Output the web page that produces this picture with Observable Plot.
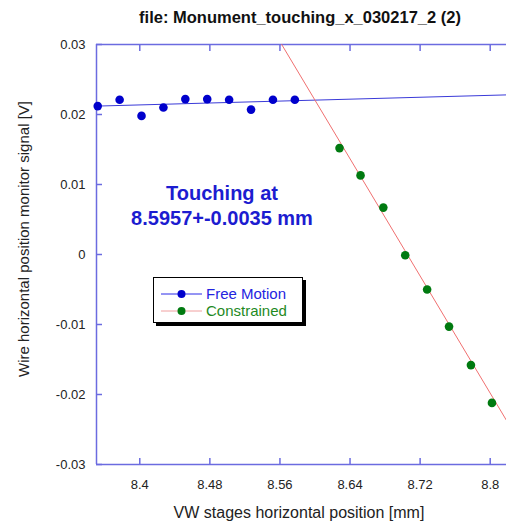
<!DOCTYPE html>
<html><head><meta charset="utf-8">
<script src="https://cdn.jsdelivr.net/npm/d3@7"></script>
<script src="https://cdn.jsdelivr.net/npm/@observablehq/plot@0.6"></script>
<style>
html,body{margin:0;padding:0;background:#fff;overflow:hidden}
#chart{position:relative;width:506px;height:522px}
</style></head><body><div id="chart"></div>
<script>
const title = "file: Monument_touching_x_030217_2 (2)";
const xLabel = "VW stages horizontal position [mm]";
const yLabel = "Wire horizontal position monitor signal [V]";
const annotation = ["Touching at", "8.5957+-0.0035 mm"];
const seriesNames = ["Free Motion", "Constrained"];
const xDomain = [8.3506, 8.8186];
const yDomain = [-0.03, 0.03];
const xTicks = [8.4, 8.48, 8.56, 8.64, 8.72, 8.8];
const yTicks = [-0.03, -0.02, -0.01, 0, 0.01, 0.02, 0.03];
const freeX = [8.352, 8.377, 8.402, 8.427, 8.452, 8.477, 8.502, 8.527, 8.552, 8.577];
const freeY = [0.0212, 0.0221, 0.0198, 0.0210, 0.0222, 0.0222, 0.0221, 0.0207, 0.0221, 0.0221];
const consX = [8.628, 8.652, 8.678, 8.703, 8.728, 8.753, 8.778, 8.802];
const consY = [0.0152, 0.0113, 0.0067, -0.0001, -0.0050, -0.0103, -0.0158, -0.0212];
const freeFitX = [8.3506, 8.8186];
const freeFitY = [0.0212, 0.0228];
const consFitX = [8.5620, 8.8186];
const consFitY = [0.03, -0.0237];

const axisColor = "#6b6be0";
const blueDot = "#0000cc", greenDot = "#007a10";
const blueLine = "#3a3ad8", redLine = "#f07070";
const font = "Arial, 'Liberation Sans', sans-serif";

const toRows = (xs, ys) => xs.map((x, i) => ({x, y: ys[i]}));
const free = toRows(freeX, freeY), cons = toRows(consX, consY);
const freeFit = toRows(freeFitX, freeFitY), consFit = toRows(consFitX, consFitY);
const fmt = d => String(d);

const plot = Plot.plot({
  width: 506, height: 522,
  marginLeft: 96, marginRight: 0, marginTop: 44, marginBottom: 58,
  style: {fontFamily: font, fontSize: "13px", color: "#222", background: "white", overflow: "visible"},
  x: {domain: xDomain},
  y: {domain: yDomain},
  marks: [
    Plot.ruleY([yDomain[0], yDomain[1]], {stroke: axisColor, strokeWidth: 1.5}),
    Plot.ruleX([xDomain[0]], {stroke: axisColor, strokeWidth: 1.5}),
    Plot.axisX(xTicks, {anchor: "bottom", tickSize: -6, tickPadding: 21, stroke: axisColor, strokeWidth: 1.5, fill: "#222", label: null, tickFormat: fmt}),
    Plot.axisX(xTicks, {anchor: "top", tickSize: -6, stroke: axisColor, strokeWidth: 1.5, label: null, tickFormat: () => ""}),
    Plot.axisY(yTicks, {anchor: "left", tickSize: -6, tickPadding: 17, stroke: axisColor, strokeWidth: 1.5, fill: "#222", label: null, tickFormat: fmt}),
    Plot.line(freeFit, {x: "x", y: "y", stroke: blueLine, strokeWidth: 1, clip: true}),
    Plot.line(consFit, {x: "x", y: "y", stroke: redLine, strokeWidth: 1, clip: true}),
    Plot.dot(free, {x: "x", y: "y", r: 4.3, fill: blueDot}),
    Plot.dot(cons, {x: "x", y: "y", r: 4.3, fill: greenDot})
  ]
});
document.getElementById("chart").appendChild(plot);

const svg = d3.select(plot);
svg.append("text").attr("x", 300).attr("y", 23).attr("text-anchor", "middle")
  .attr("font-family", font).attr("font-size", 16.5).attr("font-weight", "bold").attr("fill", "#111").text(title);
svg.append("text").attr("x", 299).attr("y", 518).attr("text-anchor", "middle")
  .attr("font-family", font).attr("font-size", 16).attr("fill", "#222").text(xLabel);
svg.append("text").attr("transform", "translate(29,239) rotate(-90)").attr("text-anchor", "middle")
  .attr("font-family", font).attr("font-size", 15).attr("fill", "#222").text(yLabel);
annotation.forEach((t, i) => {
  svg.append("text").attr("x", 222).attr("y", 200 + i * 25).attr("text-anchor", "middle")
    .attr("font-family", font).attr("font-size", 20).attr("font-weight", "bold").attr("fill", "#1c1cd0").text(t);
});

// legend
const lg = svg.append("g").attr("transform", "translate(153,277)");
lg.append("rect").attr("x", 3).attr("y", 3).attr("width", 150).attr("height", 46).attr("fill", "#000");
lg.append("rect").attr("x", 0.5).attr("y", 0.5).attr("width", 149).attr("height", 45).attr("fill", "#fff").attr("stroke", "#000");
const items = [
  {name: seriesNames[0], line: "#2a2ae8", dot: blueDot, text: "#2424e0"},
  {name: seriesNames[1], line: "#f0a0a0", dot: greenDot, text: "#1f8a1f"}
];
items.forEach((it, i) => {
  const yy = 17 + i * 17;
  lg.append("line").attr("x1", 8).attr("x2", 49).attr("y1", yy).attr("y2", yy).attr("stroke", it.line).attr("stroke-width", 1);
  lg.append("circle").attr("cx", 28.5).attr("cy", yy).attr("r", 4).attr("fill", it.dot);
  lg.append("text").attr("x", 53).attr("y", yy + 5).attr("text-anchor", "start")
    .attr("font-family", font).attr("font-size", 15).attr("fill", it.text).text(it.name);
});
</script></body></html>
